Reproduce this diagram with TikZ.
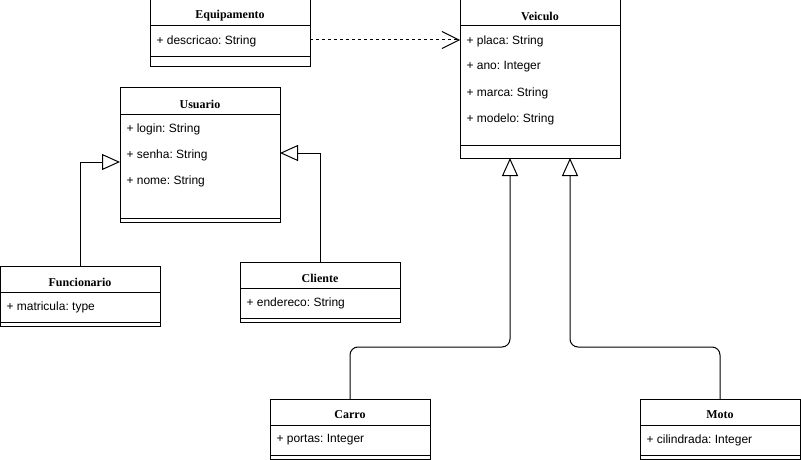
\documentclass[tikz,border=0pt]{standalone}
\usepackage{fontspec}
\setmainfont{Liberation Sans}
\newfontfamily\headfont{Liberation Serif}
\frenchspacing
\usetikzlibrary{calc}
\usetikzlibrary{arrows.meta}

\begin{document}
\begin{tikzpicture}[x=1pt,y=1pt,line width=1pt]
\tikzstyle{box}=[draw, fill=white, rectangle, anchor=north west, minimum width=160pt, inner sep=0pt, outer sep=0pt]
\tikzstyle{title}=[font=\headfont\bfseries\fontsize{12}{14}\selectfont, inner sep=0pt]
\tikzstyle{attr}=[font=\fontsize{12}{14}\selectfont, anchor=west, inner sep=0pt]
\tikzstyle{gen}=[-{Triangle[open,length=18pt,width=16pt]}]
\tikzstyle{dep}=[dash pattern=on 3pt off 3pt, -{Straight Barb[length=17pt,width=17pt]}]

\useasboundingbox (0,0) rectangle (801,-460);

\node (equip) [box, minimum height=67pt] at (150,0) {};
\node (EquipT) [title] at ($(equip.north)+(0,-16)$) {Equipamento};
\draw ($(equip.north west)+(0,-26)$) -- ($(equip.north east)+(0,-26)$);
\node (descricao) [attr] at ($(equip.north west)+(6,-41)$) {+ descricao: String};
\draw ($(equip.north west)+(0,-57)$) -- ($(equip.north east)+(0,-57)$);

\node (veiculo) [box, minimum height=158pt] at (460,0) {};
\node (VeicT) [title] at ($(veiculo.north)+(0,-16)$) {Veiculo};
\draw ($(veiculo.north west)+(0,-26)$) -- ($(veiculo.north east)+(0,-26)$);
\node (placa) [attr] at ($(veiculo.north west)+(6,-41)$) {+ placa: String};
\node (ano) [attr] at ($(veiculo.north west)+(6,-67)$) {+ ano: Integer};
\node (marca) [attr] at ($(veiculo.north west)+(6,-93)$) {+ marca: String};
\node (modelo) [attr] at ($(veiculo.north west)+(6,-119)$) {+ modelo: String};
\draw ($(veiculo.north west)+(0,-145)$) -- ($(veiculo.north east)+(0,-145)$);

\node (usuario) [box, minimum height=134pt] at (120,-88) {};
\node (UsuT) [title] at ($(usuario.north)+(0,-16)$) {Usuario};
\draw ($(usuario.north west)+(0,-26)$) -- ($(usuario.north east)+(0,-26)$);
\node (login) [attr] at ($(usuario.north west)+(6,-41)$) {+ login: String};
\node (senha) [attr] at ($(usuario.north west)+(6,-67)$) {+ senha: String};
\node (nome) [attr] at ($(usuario.north west)+(6,-93)$) {+ nome: String};
\draw ($(usuario.north west)+(0,-130)$) -- ($(usuario.north east)+(0,-130)$);

\node (funcionario) [box, minimum height=60pt] at (0,-266) {};
\node (FuncT) [title] at ($(funcionario.north)+(0,-16)$) {Funcionario};
\draw ($(funcionario.north west)+(0,-26)$) -- ($(funcionario.north east)+(0,-26)$);
\node (matricula) [attr] at ($(funcionario.north west)+(6,-41)$) {+ matricula: type};
\draw ($(funcionario.north west)+(0,-56)$) -- ($(funcionario.north east)+(0,-56)$);

\node (cliente) [box, minimum height=60pt] at (240,-262) {};
\node (CliT) [title] at ($(cliente.north)+(0,-16)$) {Cliente};
\draw ($(cliente.north west)+(0,-26)$) -- ($(cliente.north east)+(0,-26)$);
\node (endereco) [attr] at ($(cliente.north west)+(6,-41)$) {+ endereco: String};
\draw ($(cliente.north west)+(0,-56)$) -- ($(cliente.north east)+(0,-56)$);

\node (carro) [box, minimum height=60pt] at (270,-399) {};
\node (CarroT) [title] at ($(carro.north)+(0,-16)$) {Carro};
\draw ($(carro.north west)+(0,-26)$) -- ($(carro.north east)+(0,-26)$);
\node (portas) [attr] at ($(carro.north west)+(6,-41)$) {+ portas: Integer};
\draw ($(carro.north west)+(0,-56)$) -- ($(carro.north east)+(0,-56)$);

\node (moto) [box, minimum height=60pt] at (640,-399) {};
\node (MotoT) [title] at ($(moto.north)+(0,-16)$) {Moto};
\draw ($(moto.north west)+(0,-26)$) -- ($(moto.north east)+(0,-26)$);
\node (cilindrada) [attr] at ($(moto.north west)+(6,-41)$) {+ cilindrada: Integer};
\draw ($(moto.north west)+(0,-56)$) -- ($(moto.north east)+(0,-56)$);

\coordinate (EquipOut) at ($(equip.north east)+(0,-40)$);
\coordinate (VeicIn) at ($(veiculo.north west)+(0,-40)$);
\draw[dep] (EquipOut) -- (VeicIn);

\coordinate (UsuFunc) at ($(usuario.north west)+(0,-74)$);
\coordinate (UsuCli) at ($(usuario.north east)+(0,-65)$);
\draw[gen] (funcionario.north) |- (UsuFunc);
\draw[gen] (cliente.north) |- (UsuCli);

\coordinate (VeicCarro) at ($(veiculo.south)+(-30,0)$);
\coordinate (VeicMoto) at ($(veiculo.south)+(30,0)$);
\draw[gen, rounded corners=8pt] (carro.north) -- ++(0,52) -| (VeicCarro);
\draw[gen, rounded corners=8pt] (moto.north) -- ++(0,52) -| (VeicMoto);

\end{tikzpicture}
\end{document}
